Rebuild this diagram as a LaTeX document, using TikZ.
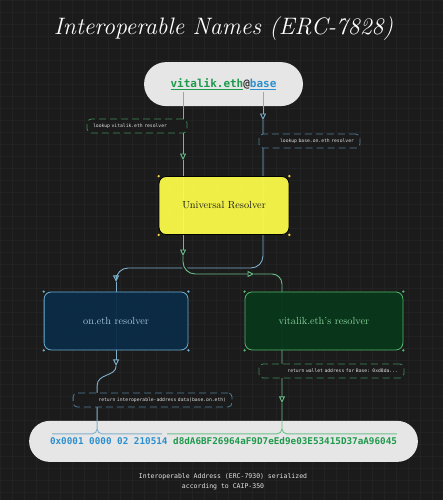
\documentclass[tikz,border=0pt]{standalone}
\usepackage{fontspec}
\newfontfamily\codefont{DejaVu Sans Mono}
\usepackage{xcolor}
\usetikzlibrary{arrows.meta}
\usetikzlibrary{positioning}

\definecolor{bg}{HTML}{1B1B1B}
\definecolor{gridc}{HTML}{222222}
\definecolor{pillc}{HTML}{E6E6E6}
\definecolor{namegreen}{HTML}{1E9A4C}
\definecolor{chainblue}{HTML}{2B8FCF}
\definecolor{atgray}{HTML}{333333}
\definecolor{gwirec}{HTML}{6CC08A}
\definecolor{bwirec}{HTML}{7FB0CE}
\definecolor{gdash}{HTML}{3E8A5A}
\definecolor{bdash}{HTML}{4E7F9C}
\definecolor{uryellow}{HTML}{FCFC4A}
\definecolor{onfill}{HTML}{0B2B46}
\definecolor{onedge}{HTML}{6BAFD2}
\definecolor{ontext}{HTML}{A2C6DC}
\definecolor{vfill}{HTML}{08371A}
\definecolor{vedge}{HTML}{50B86C}
\definecolor{vtext}{HTML}{8AD69E}
\definecolor{handlec}{HTML}{F2D34A}

\tikzset{
  pill/.style={fill=pillc, rounded corners=#1, inner sep=0pt},
  resolver/.style={rounded corners=7pt, minimum height=58pt, fill opacity=0.94, text opacity=1,
    font=\fontsize{10.3}{12}\selectfont},
  hint/.style={draw=#1, dash pattern=on 7pt off 4pt, rounded corners=4pt, fill=bg,
    line width=0.8pt, minimum height=14pt, inner xsep=6pt, inner ysep=0pt,
    text=white!88!black, font=\codefont\fontsize{4.7}{5}\selectfont},
  gwire/.style={draw=gwirec, line width=0.9pt},
  bwire/.style={draw=bwirec, line width=0.9pt},
  midtip/.style={-{Triangle[open,width=6pt,length=6.5pt]}},
}

\begin{document}
\begin{tikzpicture}[x=1pt,y=-1pt]

\fill[bg] (0,0) rectangle (443,500);
\draw[gridc, line width=0.3pt, step=12pt] (0,0) grid (443,500);
\useasboundingbox (0,0) rectangle (443,500);

\node[font=\fontsize{23.8}{28}\selectfont\itshape, text=white, anchor=base](title) at (223.5,34) {Interoperable Names (ERC-7828)};

% name pill and address pill
\node[pill=22pt, minimum width=159pt, minimum height=44pt, font=\codefont\bfseries\fontsize{11}{13}\selectfont](query) at (223.5,84)
  {\textcolor{namegreen}{\underline{vitalik.eth}}\textcolor{atgray}{@}\textcolor{chainblue}{\underline{base}}};
\node[pill=20.5pt, minimum width=389pt, minimum height=41pt, font=\codefont\bfseries\fontsize{9.3}{11}\selectfont](addr) at (223.5,441.5)
  {\textcolor{chainblue}{0x0001 0000 02 210514} \textcolor{namegreen}{d8dA6BF26964aF9D7eEd9e03E53415D37aA96045}};

\coordinate (gtop) at (183,92);
\coordinate (ga1) at (183,160);
\coordinate (ga2) at (183,256);
\coordinate (ga3) at (254,274);
\coordinate (ga4) at (282,403);
\coordinate (gl) at (167,434);
\coordinate (gr) at (397,434);

\coordinate (btop) at (263,92);
\coordinate (ba1) at (263,120);
\coordinate (bk) at (116,268);
\coordinate (ba2) at (116,282);
\coordinate (ba3) at (116,366);
\coordinate (bs) at (97,386);
\coordinate (bl) at (52,434);
\coordinate (br) at (162,434);

% chain path
\draw[bwire, midtip] (btop) -- (ba1);
\draw[bwire, midtip, rounded corners=12pt] (ba1) |- (bk) -- (ba2);
\draw[bwire, midtip] (ba2) -- (ba3);
\draw[bwire] (ba3) .. controls (116,377) and (97,373) .. (bs);
\draw[bwire, rounded corners=5pt] (bl) -| (bs) (br) -| (bs);

% name path
\draw[gwire, midtip] (gtop) -- (ga1);
\draw[gwire, midtip] (ga1) -- (ga2);
\draw[gwire, midtip, rounded corners=12pt, preaction={draw=bg, line width=4pt}] (ga2) |- (ga3);
\draw[gwire, midtip, rounded corners=10pt] (ga3) -| (ga4);
\draw[gwire, rounded corners=5pt] (gl) -| (ga4) (gr) -| (ga4);

% resolvers
\node[resolver, fill=uryellow, draw=black, line width=0.8pt, minimum width=130pt, text=black!90](ur) at (224,205.5) {Universal Resolver};
\node[resolver, fill=onfill, draw=onedge, line width=0.8pt, minimum width=144pt, text=ontext](onres) at (116,321) {on.eth resolver};
\node[resolver, fill=vfill, draw=vedge, line width=0.8pt, minimum width=158pt, text=vtext](vres) at (324,321) {vitalik.eth's resolver};

\foreach \c in {north west, north east, south west, south east}{
  \fill[handlec] (ur.\c) circle (1.3pt);
  \fill[onedge] (onres.\c) circle (1.3pt);
  \fill[vedge] (vres.\c) circle (1.3pt);
}

% step hints
\node[hint=gdash, text width=88pt, align=left](lk1) at (137,126) {lookup vitalik.eth resolver};
\node[hint=bdash, text width=89pt, align=right](lk2) at (309.5,141) {lookup base.on.eth resolver};
\node[hint=gdash, text width=133pt, align=right](ret2) at (331.5,371) {return wallet address for Base: 0xd8da...};
\node[hint=bdash, text width=147pt, align=right](ret1) at (152.5,400) {return interoperable-address data(base.on.eth)};

\node[font=\codefont\fontsize{6.5}{10.5}\selectfont, text=white!90!black, align=center](caption) at (223,482)
  {Interoperable Address (ERC-7930) serialized\\according to CAIP-350};

\end{tikzpicture}
\end{document}
